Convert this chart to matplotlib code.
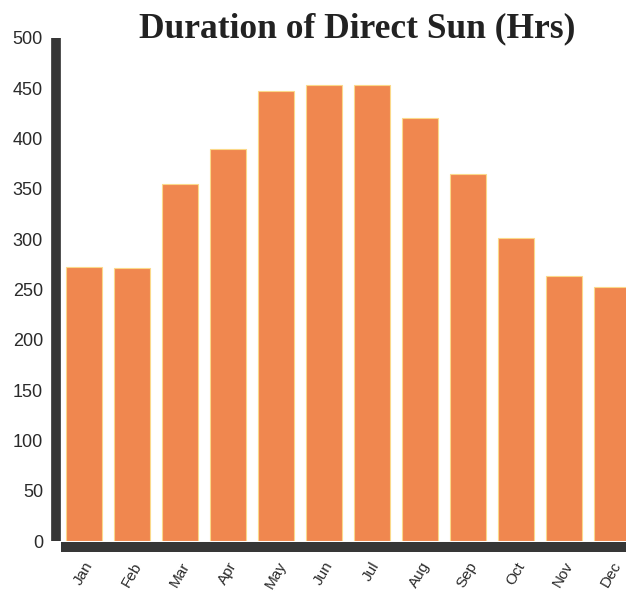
import matplotlib
matplotlib.use("Agg")
import matplotlib.pyplot as plt

months = ["Jan", "Feb", "Mar", "Apr", "May", "Jun", "Jul", "Aug", "Sep", "Oct", "Nov", "Dec"]
hours = [272, 271, 355, 390, 447, 453, 453, 420, 365, 301, 263, 252]
yticks = [0, 50, 100, 150, 200, 250, 300, 350, 400, 450, 500]

W, H = 626, 600
fig = plt.figure(figsize=(W / 100, H / 100), dpi=100)
ax = fig.add_axes([61 / W, (H - 541) / H, 1 - 61 / W, (541 - 38) / H])

x = list(range(len(months)))
ax.bar(x, hours, width=0.75, color="#F0874F", edgecolor="#FBD98A", linewidth=0.8)

ax.set_ylim(0, 500)
ax.set_xlim((61 - 83.5) / 48, (626 - 83.5) / 48)
ax.set_yticks(yticks)
ax.set_yticklabels([str(v) for v in yticks])
ax.set_xticks(x)
ax.set_xticklabels(months)

spine_col = "#363636"
ax.spines["top"].set_visible(False)
ax.spines["right"].set_visible(False)
ax.spines["left"].set_linewidth(7)
ax.spines["left"].set_color(spine_col)
ax.spines["left"].set_position(("outward", 3.5))
ax.spines["bottom"].set_linewidth(7.2)
ax.spines["bottom"].set_color(spine_col)
ax.spines["bottom"].set_position(("outward", 4.3))
for s in ("left", "bottom"):
    ax.spines[s].set_capstyle("butt")

ax.tick_params(axis="y", length=0, pad=9.5, labelsize=13, labelcolor="#2a2a2a")
ax.tick_params(axis="x", length=0, pad=9, labelsize=11, labelcolor="#2a2a2a",
               labelrotation=60)
for lab in ax.get_xticklabels() + ax.get_yticklabels():
    lab.set_family(["Liberation Sans", "DejaVu Sans"])
for lab in ax.get_xticklabels():
    lab.set_ha("center")
    lab.set_va("top")

fig.text(357.5 / W, (H - 37) / H, "Duration of Direct Sun (Hrs)",
         ha="center", va="baseline", fontsize=25.5, fontweight="bold",
         family=["Liberation Serif", "DejaVu Serif"], color="#222222")

fig.savefig("out.png", dpi=100)
